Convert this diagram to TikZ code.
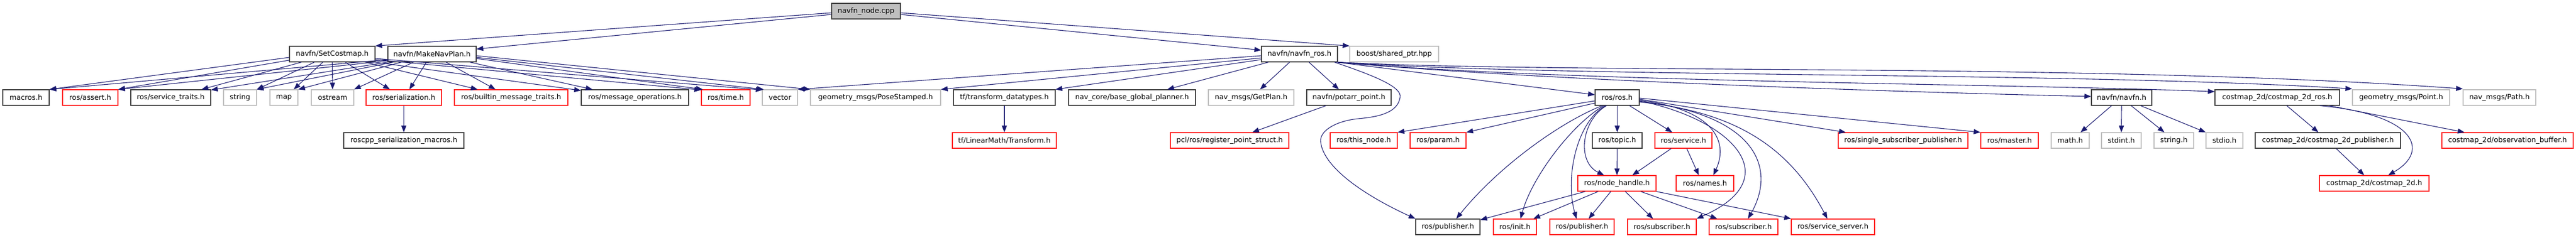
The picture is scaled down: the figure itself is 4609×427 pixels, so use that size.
\documentclass[tikz,border=0pt]{standalone}
\usepackage{fontspec}
\setmainfont{DejaVu Sans}
\usetikzlibrary{arrows.meta,calc}
\definecolor{edgec}{HTML}{191970}
\definecolor{bkc}{HTML}{404040}
\definecolor{gyc}{HTML}{BFBFBF}
\definecolor{rdc}{HTML}{FF2020}
\tikzset{
 nbox/.style={rectangle, line width=1.2pt, minimum height=28pt, inner sep=0pt, font=\fontsize{12.75}{15}\selectfont, text=black},
 bk/.style={nbox, draw=bkc},
 gy/.style={nbox, draw=gyc},
 rd/.style={nbox, draw=rdc},
 root/.style={nbox, draw=bkc, fill=gyc},
 dep/.style={draw=edgec, line width=1.1pt, -{Triangle[length=12pt,width=9pt]}},
}
\begin{document}
\begin{tikzpicture}[x=1pt,y=-1pt]
\useasboundingbox (0,0) rectangle (4609,427);
\fill[white] (0,0) rectangle (4609,427);
% row 0
\node[root, minimum width=123pt] (nodecpp) at (1549.5,20) {navfn\_node.cpp};
% row 1
\node[bk, minimum width=153pt] (setc) at (594.5,97) {navfn/SetCostmap.h};
\node[bk, minimum width=158pt] (mknp) at (773,97) {navfn/MakeNavPlan.h};
\node[bk, minimum width=136pt] (nros) at (2325,97) {navfn/navfn\_ros.h};
\node[gy, minimum width=159pt] (boost) at (2494.5,97) {boost/shared\_ptr.hpp};
% row 2
\node[bk, minimum width=83pt] (macros) at (46.5,175) {macros.h};
\node[rd, minimum width=99pt] (assert) at (161.5,175) {ros/assert.h};
\node[bk, minimum width=143pt] (strait) at (305.5,175) {ros/service\_traits.h};
\node[gy, minimum width=59pt] (string) at (429.5,175) {string};
\node[gy, minimum width=50pt] (map) at (508,175) {map};
\node[gy, minimum width=76pt] (ostream) at (595,175) {ostream};
\node[rd, minimum width=135pt] (ser) at (722.5,175) {ros/serialization.h};
\node[rd, minimum width=203pt] (bmt) at (914.5,175) {ros/builtin\_message\_traits.h};
\node[bk, minimum width=192pt] (mop) at (1136,175) {ros/message\_operations.h};
\node[rd, minimum width=87pt] (time) at (1298.5,175) {ros/time.h};
\node[gy, minimum width=63pt] (vector) at (1395.5,175) {vector};
\node[gy, minimum width=233pt] (pose) at (1566.5,175) {geometry\_msgs/PoseStamped.h};
\node[bk, minimum width=182pt] (tfdt) at (1797,175) {tf/transform\_datatypes.h};
\node[bk, minimum width=227pt] (bgp) at (2025.5,175) {nav\_core/base\_global\_planner.h};
\node[gy, minimum width=153pt] (getplan) at (2238.5,175) {nav\_msgs/GetPlan.h};
\node[bk, minimum width=151pt] (potarr) at (2413.5,175) {navfn/potarr\_point.h};
\node[bk, minimum width=79pt] (rosh) at (2893.5,175) {ros/ros.h};
\node[bk, minimum width=108pt] (navfn) at (3796,175) {navfn/navfn.h};
\node[bk, minimum width=223pt] (cmros) at (4074.5,175) {costmap\_2d/costmap\_2d\_ros.h};
\node[gy, minimum width=174pt] (point) at (4296,175) {geometry\_msgs/Point.h};
\node[gy, minimum width=130pt] (navpath) at (4472,175) {nav\_msgs/Path.h};
% row 3
\node[bk, minimum width=215pt] (rsm) at (722.5,252) {roscpp\_serialization\_macros.h};
\node[rd, minimum width=186pt] (tflm) at (1797,252) {tf/LinearMath/Transform.h};
\node[rd, minimum width=212pt] (pcl) at (2200,252) {pcl/ros/register\_point\_struct.h};
\node[rd, minimum width=120pt] (thisnode) at (2440,252) {ros/this\_node.h};
\node[rd, minimum width=100pt] (param) at (2573,252) {ros/param.h};
\node[bk, minimum width=89pt] (topic) at (2893.5,252) {ros/topic.h};
\node[rd, minimum width=102pt] (service) at (3012,252) {ros/service.h};
\node[rd, minimum width=232pt] (ssp) at (3405,252) {ros/single\_subscriber\_publisher.h};
\node[rd, minimum width=103pt] (master) at (3595.5,252) {ros/master.h};
\node[gy, minimum width=68pt] (math) at (3704,252) {math.h};
\node[gy, minimum width=71pt] (stdint) at (3795.5,252) {stdint.h};
\node[gy, minimum width=71pt] (stringh) at (3889.5,252) {string.h};
\node[gy, minimum width=66pt] (stdio) at (3980,252) {stdio.h};
\node[bk, minimum width=260pt] (cmpub) at (4165,252) {costmap\_2d/costmap\_2d\_publisher.h};
\node[rd, minimum width=235pt] (obs) at (4486.5,252) {costmap\_2d/observation\_buffer.h};
% row 4
\node[rd, minimum width=140pt] (nh) at (2893,329) {ros/node\_handle.h};
\node[rd, minimum width=103pt] (names) at (3050.5,329) {ros/names.h};
\node[rd, minimum width=196pt] (cm2d) at (4248,329) {costmap\_2d/costmap\_2d.h};
% row 5
\node[bk, minimum width=115pt] (pubb) at (2590.5,407) {ros/publisher.h};
\node[rd, minimum width=77pt] (init) at (2710.5,407) {ros/init.h};
\node[rd, minimum width=115pt] (pubr) at (2830.5,407) {ros/publisher.h};
\node[rd, minimum width=123pt] (sub1) at (2973.5,407) {ros/subscriber.h};
\node[rd, minimum width=123pt] (sub2) at (3119.5,407) {ros/subscriber.h};
\node[rd, minimum width=149pt] (srvs) at (3279.5,407) {ros/service\_server.h};

% navfn_node.cpp
\draw[dep] ($(nodecpp.west)+(0,3)$) -- (setc.north east);
\draw[dep] ($(nodecpp.west)+(0,6)$) -- ($(mknp.east)+(0,-9)$);
\draw[dep] ($(nodecpp.east)+(0,3)$) -- (boost.north west);
\draw[dep] ($(nodecpp.east)+(0,6)$) -- ($(nros.west)+(0,-7)$);

% SetCostmap.h
\draw[dep] ($(setc.west)+(0,6)$) -- (macros.north east);
\draw[dep] ($(setc.west)+(0,11)$) -- (assert.north east);
\draw[dep] ($(setc.south west)+(22,0)$) -- ($(strait.north east)+(-17,0)$);
\draw[dep] ($(setc.south)+(-32,0)$) -- (string.north east);
\draw[dep] ($(setc.south)+(-17,0)$) -- ($(map.north east)+(-8,0)$);
\draw[dep] (setc.south) -- (ostream.north);
\draw[dep] ($(setc.south)+(23,0)$) -- ($(ser.north)+(-25,0)$);
\draw[dep] ($(setc.south east)+(-18,0)$) -- ($(bmt.north)+(-60,0)$);
\draw[dep] (setc.south east) -- ($(mop.north west)+(0,2)$);
\draw[dep] ($(setc.east)+(0,10)$) -- ($(time.north west)+(0,1)$);
\draw[dep] ($(setc.east)+(0,8)$) -- ($(vector.north west)+(1,1)$);

% MakeNavPlan.h
\draw[dep] ($(mknp.west)+(0,10)$) -- (macros.north east);
\draw[dep] ($(mknp.west)+(0,12)$) -- (assert.north east);
\draw[dep] (mknp.south west) -- ($(strait.north east)+(0,1)$);
\draw[dep] ($(mknp.south west)+(10,0)$) -- (string.north east);
\draw[dep] ($(mknp.south west)+(25,0)$) -- (map.north east);
\draw[dep] ($(mknp.south)+(-33,0)$) -- (ostream.north east);
\draw[dep] ($(mknp.south)+(-10,0)$) -- ($(ser.north)+(10,0)$);
\draw[dep] ($(mknp.south)+(25,0)$) -- ($(bmt.north)+(-28,0)$);
\draw[dep] ($(mknp.south east)+(-12,0)$) -- ($(mop.north)+(-76,0)$);
\draw[dep] ($(mknp.east)+(0,8)$) -- ($(time.north west)+(3,0)$);
\draw[dep] ($(mknp.east)+(0,6)$) -- ($(vector.north west)+(3,0)$);
\draw[dep] ($(mknp.east)+(0,3)$) -- (pose.north west);

% navfn_ros.h
\draw[dep] ($(nros.west)+(0,3)$) -- (vector.north east);
\draw[dep] ($(nros.west)+(0,7)$) -- (pose.north east);
\draw[dep] ($(nros.west)+(0,10)$) -- (tfdt.north east);
\draw[dep] ($(nros.south west)+(13,0)$) -- ($(bgp.north)+(63,0)$);
\draw[dep] ($(nros.south west)+(51,0)$) -- ($(getplan.north)+(16,0)$);
\draw[dep] ($(nros.south)+(17,0)$) -- ($(potarr.north)+(-18,0)$);
\draw[dep] ($(nros.south east)+(-6,0)$) .. controls (2450,133) and (2510,155) .. (2505,175)
   .. controls (2500,205) and (2460,210) .. (2430,213)
   .. controls (2390,217) and (2360,235) .. (2363,255)
   .. controls (2368,300) and (2440,350) .. (pubb.north west);
\draw[dep] ($(nros.south east)+(-2,0)$) -- ($(rosh.west)+(0,-5)$);
\draw[dep] (nros.south east) .. controls (2700,140) and (3300,163) .. ($(navfn.west)+(0,-2)$);
\draw[dep] (nros.south east) .. controls (2800,148) and (3600,150) .. ($(cmros.north west)+(0,4)$);
\draw[dep] (nros.south east) .. controls (2800,140) and (3700,128) .. ($(point.north west)+(0,-1)$);
\draw[dep] (nros.south east) .. controls (2800,133) and (3750,112) .. ($(navpath.north west)+(0,-1)$);

% single chains
\draw[dep] ($(potarr.south west)+(35,0)$) -- ($(pcl.north east)+(-66,0)$);
\draw[dep] (tfdt) -- (tflm);
\draw[dep] (ser) -- (rsm);

% ros/ros.h
\draw[dep] ($(rosh.west)+(0,6)$) -- (thisnode.north east);
\draw[dep] ($(rosh.west)+(0,10)$) -- (param.north east);
\draw[dep] ($(rosh.south west)+(13,0)$) .. controls (2790,220) and (2680,300) .. ($(pubb.north east)+(-43,0)$);
\draw[dep] ($(rosh.south west)+(16,0)$) .. controls (2810,225) and (2740,320) .. ($(init.north east)+(-29,0)$);
\draw[dep] ($(rosh.south west)+(19,0)$) .. controls (2820,220) and (2800,320) .. ($(pubr.north east)+(-68,0)$);
\draw[dep] ($(rosh.south west)+(21,0)$) .. controls (2830,215) and (2820,290) .. ($(nh.north)+(-23,0)$);
\draw[dep] (rosh) -- (topic);
\draw[dep] ($(rosh.south east)+(-18,0)$) -- ($(service.north)+(-20,0)$);
\draw[dep] ($(rosh.east)+(0,5)$) .. controls (3060,195) and (3095,250) .. ($(names.north)+(15,0)$);
\draw[dep] ($(rosh.east)+(0,6)$) .. controls (3100,215) and (3200,320) .. (sub1.north east);
\draw[dep] ($(rosh.east)+(0,7)$) .. controls (3140,205) and (3180,300) .. ($(sub2.north)+(8,0)$);
\draw[dep] ($(rosh.east)+(0,8)$) .. controls (3100,200) and (3200,260) .. ($(srvs.north)+(-10,0)$);
\draw[dep] ($(rosh.east)+(0,3)$) -- ($(ssp.north west)+(14,0)$);
\draw[dep] ($(rosh.east)+(0,1)$) -- (master.north west);

% topic / service
\draw[dep] (topic) -- (nh);
\draw[dep] ($(service.south)+(-22,0)$) -- ($(nh.north east)+(-43,0)$);
\draw[dep] ($(service.south)+(6,0)$) -- ($(names.north west)+(41,0)$);

% node_handle
\draw[dep] ($(nh.south west)+(14,0)$) -- ($(pubb.north east)+(0,2)$);
\draw[dep] ($(nh.south west)+(37,0)$) -- ($(init.north east)+(-6,0)$);
\draw[dep] ($(nh.south)+(-11,0)$) -- ($(pubr.north)+(12,0)$);
\draw[dep] ($(nh.south)+(15,0)$) -- ($(sub1.north)+(-16,0)$);
\draw[dep] ($(nh.south east)+(-28,0)$) -- ($(sub2.north west)+(15,0)$);
\draw[dep] (nh.south east) -- (srvs.north west);

% navfn.h
\draw[dep] ($(navfn.south)+(-18,0)$) -- ($(math.north east)+(-16,0)$);
\draw[dep] (navfn.south) -- (stdint.north);
\draw[dep] ($(navfn.south)+(17,0)$) -- ($(stringh.north)+(-17,0)$);
\draw[dep] ($(navfn.south)+(34,0)$) -- (stdio.north west);

% costmap_2d_ros.h
\draw[dep] ($(cmros.south)+(17,0)$) -- ($(cmpub.north)+(-17,0)$);
\draw[dep] ($(cmros.south east)+(-36,0)$) .. controls (4320,205) and (4350,270) .. ($(cm2d.north)+(25,0)$);
\draw[dep] ($(cmros.south east)+(-19,0)$) -- ($(obs.north west)+(41,0)$);
\draw[dep] ($(cmpub.south)+(15,0)$) -- ($(cm2d.north)+(-18,0)$);
\end{tikzpicture}
\end{document}
